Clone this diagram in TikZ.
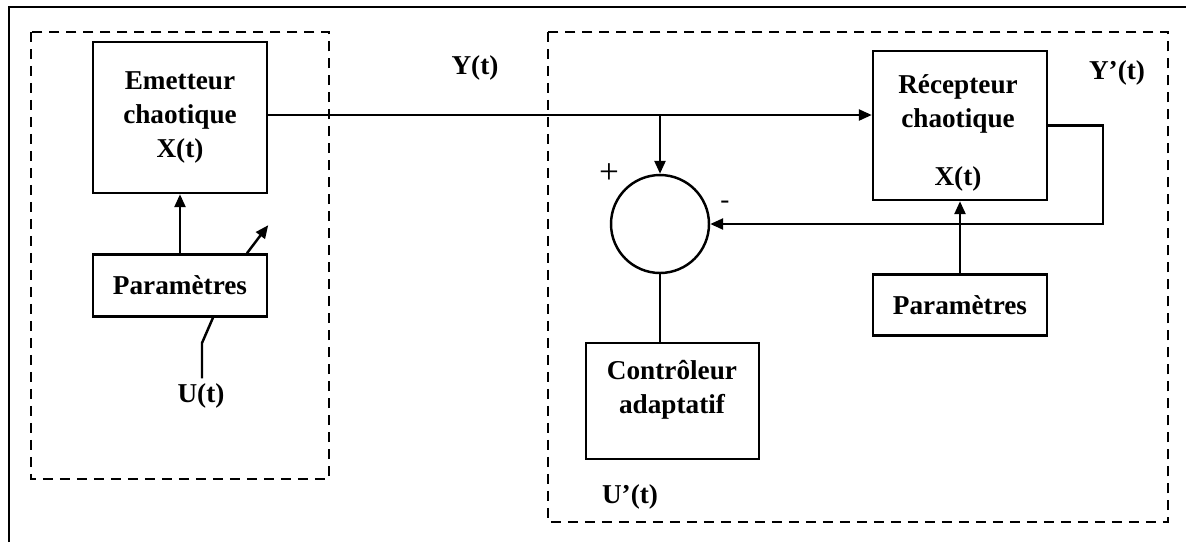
\documentclass[tikz,border=0pt]{standalone}
\usepackage{fontspec}
\setmainfont{Liberation Serif}
\usetikzlibrary{arrows.meta, positioning}

\begin{document}
\begin{tikzpicture}[
        x=0.02cm, y=-0.02cm,
        box/.style={rectangle, draw, line width=1.4pt, minimum width=3.48cm, align=center, font=\bfseries\fontsize{15.5}{19.6}\selectfont},
        lbl/.style={font=\bfseries\fontsize{15.5}{19.6}\selectfont, inner sep=0pt},
        sign/.style={font=\fontsize{20}{22}\selectfont, inner sep=0pt},
        arr/.style={-{Triangle[length=0.26cm, width=0.22cm]}, line width=1.4pt},
        wire/.style={line width=1.4pt},
        group/.style={draw, line width=1.5pt, dash pattern=on 0.2cm off 0.14cm},
        node distance=1.18cm
        ]
        \useasboundingbox (0,0) rectangle (1186,542);
        \draw[line width=1pt] (9,542) -- (9,7) -- (1186,7);
        \draw[group] (31,32) rectangle (329,479);
        \draw[group] (548,32) rectangle (1168,522);

        % emetteur
        \node[box, minimum height=3.02cm] (emet) at (180,117.5) {Emetteur\\chaotique\\X(t)};
        \node[box, minimum height=1.24cm, below=of emet] (param1) {Paramètres};
        \node[lbl] (ulbl) at (201,396) {U(t)};

        % recepteur
        \node[box, minimum height=2.98cm] (recep) at (960,125.5) {};
        \node[lbl, align=center] (recepT) at (958,133) {Récepteur\\chaotique\\[0.47cm]X(t)};
        \node[box, minimum height=1.22cm, below=1.44cm of recep] (param2) {Paramètres};
        \node[circle, draw, line width=1.4pt, minimum size=1.96cm, inner sep=0pt] (sum) at (660,224) {};
        \node[box, minimum width=3.46cm, minimum height=2.32cm] (ctrl) at (672.5,401) {};
        \node[lbl, align=center] (ctrlT) at (672,390) {Contrôleur\\adaptatif};

        \node[lbl] (ylbl) at (475,68) {Y(t)};
        \node[lbl] (yplbl) at (1117,73) {Y’(t)};
        \node[lbl] (uplbl) at (630,497) {U’(t)};
        \node[sign] (plus) at (609,174) {+};
        \node[sign, font=\fontsize{15.5}{19.6}\selectfont] (minus) at (725,205) {-};

        \coordinate (ystart) at ([yshift=0.05cm]emet.east);
        \coordinate (ubend) at (202,343);
        \draw[arr] (ystart) -- (ystart -| recep.west);
        \draw[arr] (ystart -| sum.north) -- (sum.north);
        \draw[arr] (param1) -- (emet);
        \draw[arr] ([xshift=1.34cm]param1.north) -- ([yshift=0.56cm]param1.north east);
        \draw[wire, shorten >=0.1cm] ([xshift=0.66cm]param1.south) -- (ubend) -- (ubend |- ulbl.north);
        \draw[arr] (param2) -- (recep);
        \draw[arr] (recep.east) -- ++(1.1cm,0) |- (sum.east);
        \draw[wire] (sum.south) -- (sum.south |- ctrl.north);
    \end{tikzpicture}
\end{document}
